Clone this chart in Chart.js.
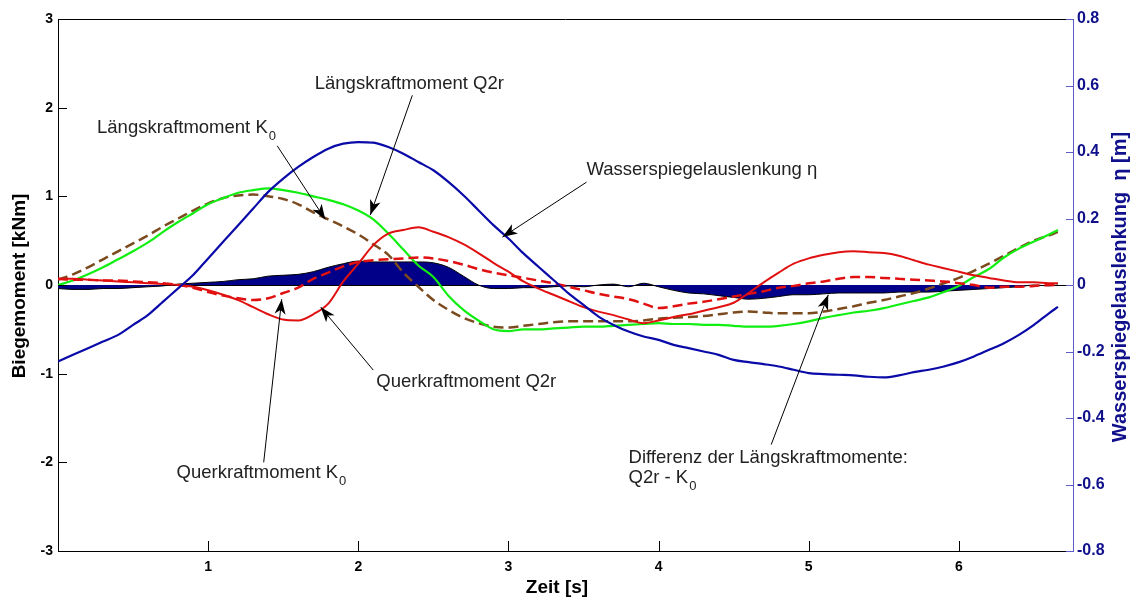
<!DOCTYPE html>
<html>
<head>
<meta charset="utf-8">
<script src="https://cdn.jsdelivr.net/npm/chart.js@4.4.1/dist/chart.umd.min.js"></script>
<style>
  html, body { margin: 0; padding: 0; background: #fff; }
  #wrap { width: 1137px; height: 604px; }
</style>
</head>
<body>
<div id="wrap"><canvas id="chart" width="1137" height="604"></canvas></div>
<script>
// ————— Data —————
const times = [0,0.1,0.2,0.3,0.4,0.5,0.6,0.7,0.8,0.9,1.0,1.1,1.2,1.3,1.4,1.5,1.6,1.7,1.8,1.9,
  2.0,2.1,2.2,2.3,2.4,2.5,2.6,2.7,2.8,2.9,3.0,3.1,3.2,3.3,3.4,3.5,3.6,3.7,3.8,3.9,
  4.0,4.1,4.2,4.3,4.4,4.5,4.6,4.7,4.8,4.9,5.0,5.1,5.2,5.3,5.4,5.5,5.6,5.7,5.8,5.9,
  6.0,6.1,6.2,6.3,6.4,6.5,6.6,6.66];

// Wasserspiegelauslenkung eta [m] (right axis)
const eta = [-0.23,-0.21,-0.19,-0.17,-0.15,-0.12,-0.09,-0.05,-0.01,0.03,0.08,0.13,0.18,0.23,0.28,0.32,0.355,0.385,0.41,0.425,
  0.43,0.428,0.415,0.395,0.37,0.345,0.31,0.27,0.225,0.18,0.14,0.095,0.055,0.015,-0.025,-0.06,-0.095,-0.12,-0.14,-0.155,
  -0.165,-0.18,-0.19,-0.2,-0.21,-0.225,-0.232,-0.238,-0.245,-0.255,-0.265,-0.268,-0.27,-0.272,-0.276,-0.278,-0.272,-0.262,-0.255,-0.245,
  -0.232,-0.215,-0.195,-0.175,-0.15,-0.12,-0.085,-0.066];

// Längskraftmoment Q2r [kNm]
const laengsQ2r = [0.0,0.05,0.12,0.2,0.29,0.38,0.48,0.6,0.71,0.81,0.91,0.98,1.04,1.07,1.09,1.07,1.04,1.0,0.96,0.91,
  0.84,0.74,0.58,0.4,0.22,0.09,-0.12,-0.28,-0.4,-0.5,-0.52,-0.5,-0.5,-0.49,-0.48,-0.47,-0.47,-0.46,-0.45,-0.44,
  -0.43,-0.44,-0.44,-0.45,-0.45,-0.46,-0.47,-0.47,-0.46,-0.44,-0.41,-0.37,-0.34,-0.31,-0.29,-0.26,-0.22,-0.18,-0.14,-0.08,
  -0.01,0.09,0.18,0.31,0.41,0.49,0.57,0.62];

// Längskraftmoment K0 [kNm]
const laengsK0 = [0.06,0.12,0.2,0.29,0.38,0.47,0.56,0.66,0.75,0.84,0.92,0.98,1.01,1.02,1.0,0.97,0.91,0.82,0.74,0.66,
  0.57,0.46,0.34,0.14,-0.02,-0.17,-0.28,-0.37,-0.43,-0.47,-0.48,-0.46,-0.44,-0.42,-0.41,-0.41,-0.41,-0.41,-0.41,-0.4,
  -0.38,-0.37,-0.36,-0.35,-0.33,-0.31,-0.3,-0.31,-0.32,-0.32,-0.32,-0.3,-0.27,-0.24,-0.2,-0.17,-0.13,-0.09,-0.04,0.02,
  0.08,0.16,0.24,0.33,0.42,0.5,0.56,0.6];

// Querkraftmoment Q2r [kNm]
const querQ2r = [0.07,0.07,0.06,0.05,0.04,0.03,0.02,0.01,0.0,-0.02,-0.06,-0.11,-0.17,-0.25,-0.33,-0.39,-0.4,-0.33,-0.21,0.04,
  0.24,0.45,0.58,0.62,0.65,0.6,0.54,0.46,0.36,0.25,0.15,0.04,-0.04,-0.11,-0.18,-0.25,-0.3,-0.34,-0.39,-0.43,
  -0.4,-0.36,-0.33,-0.29,-0.25,-0.2,-0.09,0.03,0.14,0.24,0.3,0.34,0.37,0.38,0.37,0.36,0.33,0.28,0.23,0.19,
  0.15,0.11,0.08,0.05,0.03,0.03,0.02,0.02];

// Querkraftmoment K0 [kNm]
const querK0 = [0.07,0.06,0.06,0.05,0.05,0.04,0.03,0.02,0.0,-0.03,-0.08,-0.12,-0.15,-0.17,-0.15,-0.09,-0.03,0.07,0.14,0.21,
  0.26,0.28,0.29,0.3,0.31,0.3,0.27,0.23,0.18,0.14,0.11,0.08,0.05,0.02,-0.02,-0.06,-0.1,-0.13,-0.16,-0.21,
  -0.26,-0.24,-0.21,-0.19,-0.16,-0.13,-0.1,-0.07,-0.03,-0.01,0.02,0.04,0.07,0.09,0.09,0.08,0.07,0.06,0.05,0.04,
  0.02,0.0,-0.03,-0.02,-0.02,-0.01,0.0,0.0];

// Differenz der Längskraftmomente Q2r - K0 [kNm]
const diffLaengs = [-0.04,-0.05,-0.05,-0.04,-0.04,-0.03,-0.02,-0.01,0.01,0.02,0.03,0.04,0.06,0.07,0.1,0.11,0.12,0.15,0.2,0.24,
  0.27,0.26,0.26,0.26,0.26,0.25,0.2,0.1,0.0,-0.04,-0.04,-0.03,-0.03,-0.02,-0.01,-0.02,0.0,0.01,-0.02,0.02,
  -0.02,-0.06,-0.09,-0.1,-0.12,-0.14,-0.16,-0.15,-0.13,-0.11,-0.11,-0.1,-0.09,-0.09,-0.09,-0.09,-0.08,-0.08,-0.08,-0.07,
  -0.06,-0.05,-0.04,-0.03,-0.02,0.0,-0.01,0.0];

const leftTicks  = [-3,-2,-1,0,1,2,3];
const rightTicks = [-0.8,-0.6,-0.4,-0.2,0,0.2,0.4,0.6,0.8];
const timeTicks  = [1,2,3,4,5,6];

// annotation texts, anchored in data units (time, left axis)
const notes = [
  { text:'Längskraftmoment Q2r', at:[1.71, 2.27],  from:[2.36, 2.14],  to:[2.08, 0.79] },
  { text:'Längskraftmoment K', sub:'0', at:[0.26, 1.77], from:[1.46, 1.57], to:[1.78, 0.74] },
  { text:'Wasserspiegelauslenkung η', at:[3.52, 1.30], from:[3.52, 1.16], to:[2.96, 0.54] },
  { text:'Querkraftmoment Q2r', at:[2.12, -1.09], from:[2.10, -0.96], to:[1.75, -0.25] },
  { text:'Querkraftmoment K', sub:'0', at:[0.79, -2.12], from:[1.37, -2.0], to:[1.49, -0.16] },
  { text:'Differenz der Längskraftmomente:', at:[3.80, -1.95], from:[4.75, -1.80], to:[5.13, -0.11] },
  { text:'Q2r - K', sub:'0', at:[3.80, -2.18] }
];

// ————— Helpers —————
const pts = vals => times.map((t, i) => ({ x: t, y: vals[i] }));
const FONT = '"Liberation Sans", Arial, sans-serif';

function arrow(ctx, x1, y1, x2, y2) {
  ctx.beginPath(); ctx.moveTo(x1, y1); ctx.lineTo(x2, y2); ctx.stroke();
  const a = Math.atan2(y2 - y1, x2 - x1), L = 15, W = 5.5;
  const bx = x2 - L * Math.cos(a), by = y2 - L * Math.sin(a);
  const nx = x2 - (L - 4) * Math.cos(a), ny = y2 - (L - 4) * Math.sin(a);
  ctx.beginPath();
  ctx.moveTo(x2, y2);
  ctx.lineTo(bx + W * Math.sin(a), by - W * Math.cos(a));
  ctx.lineTo(nx, ny);
  ctx.lineTo(bx - W * Math.sin(a), by + W * Math.cos(a));
  ctx.closePath(); ctx.fill();
}

// ————— Overlay: frame, inward ticks, axis titles, annotations —————
const overlay = {
  id: 'overlay',
  afterDraw(chart) {
    const { ctx, chartArea: a, scales: { x, y, y2 } } = chart;
    ctx.save();
    ctx.lineWidth = 1;
    ctx.strokeStyle = '#000';
    ctx.beginPath(); ctx.moveTo(a.left, a.top + 0.5); ctx.lineTo(a.right, a.top + 0.5); ctx.stroke();

    ctx.beginPath();
    x.ticks.forEach(t => { const p = Math.round(x.getPixelForValue(t.value)) + 0.5; ctx.moveTo(p, a.bottom); ctx.lineTo(p, a.bottom - 10); });
    y.ticks.forEach(t => { const p = Math.round(y.getPixelForValue(t.value)) + 0.5; ctx.moveTo(a.left, p); ctx.lineTo(a.left + 9, p); });
    ctx.stroke();
    ctx.strokeStyle = '#5c5cc8';
    ctx.beginPath();
    y2.ticks.forEach(t => { const p = Math.round(y2.getPixelForValue(t.value)) + 0.5; ctx.moveTo(a.right, p); ctx.lineTo(a.right - 7, p); });
    ctx.stroke();

    // axis titles
    ctx.textAlign = 'center'; ctx.textBaseline = 'middle';
    ctx.fillStyle = '#000';
    ctx.font = `bold 19px ${FONT}`;
    ctx.fillText('Zeit [s]', 557, 588);
    ctx.save(); ctx.translate(20, 286); ctx.rotate(-Math.PI / 2);
    ctx.fillText('Biegemoment [kNm]', 0, 0); ctx.restore();
    ctx.fillStyle = '#10108c';
    ctx.font = `bold 20px ${FONT}`;
    ctx.save(); ctx.translate(1120, 287); ctx.rotate(-Math.PI / 2);
    ctx.fillText('Wasserspiegelauslenkung  η [m]', 0, 0); ctx.restore();

    // annotations
    ctx.fillStyle = '#222'; ctx.strokeStyle = '#222';
    ctx.textAlign = 'left';
    notes.forEach(n => {
      const tx = x.getPixelForValue(n.at[0]), ty = y.getPixelForValue(n.at[1]);
      ctx.font = `18.5px ${FONT}`;
      ctx.fillText(n.text, tx, ty);
      if (n.sub) {
        const w = ctx.measureText(n.text).width;
        ctx.font = `13px ${FONT}`;
        ctx.fillText(n.sub, tx + w + 1, ty + 8);
      }
      if (n.from) {
        ctx.fillStyle = '#000'; ctx.strokeStyle = '#000';
        arrow(ctx, x.getPixelForValue(n.from[0]), y.getPixelForValue(n.from[1]),
                   x.getPixelForValue(n.to[0]),   y.getPixelForValue(n.to[1]));
        ctx.fillStyle = '#222';
      }
    });
    ctx.restore();
  }
};

// ————— Chart —————
const line = (data, color, extra) => Object.assign({
  data: pts(data), borderColor: color, borderWidth: 2, pointRadius: 0,
  fill: false, cubicInterpolationMode: 'monotone', yAxisID: 'y'
}, extra);

new Chart(document.getElementById('chart'), {
  type: 'line',
  data: {
    datasets: [
      line(eta, '#0a0aa8', { yAxisID: 'y2', borderWidth: 2.2, order: 1 }),
      line(querQ2r, '#e01010', { order: 2 }),
      line(querK0, '#e01010', { borderDash: [10, 5], borderWidth: 2.5, order: 3 }),
      line(laengsQ2r, '#11ee11', { borderWidth: 2.2, order: 4 }),
      line(laengsK0, '#7b4a1e', { borderDash: [10, 5], borderWidth: 2.5, order: 5 }),
      line(diffLaengs, '#000', { borderWidth: 1, fill: 'origin', backgroundColor: '#000088', order: 6 })
    ]
  },
  options: {
    responsive: false,
    animation: false,
    layout: { padding: { top: 19, left: 0, right: 0, bottom: 0 } },
    plugins: { legend: { display: false }, tooltip: { enabled: false } },
    scales: {
      x: {
        type: 'linear', min: 0, max: 6.76,
        afterFit: s => { s.height = 53; },
        afterBuildTicks: s => { s.ticks = timeTicks.map(v => ({ value: v })); },
        grid: { color: 'transparent', drawTicks: false },
        border: { color: '#000', width: 1 },
        ticks: { color: '#000', font: { family: FONT, size: 14, weight: 'bold' }, padding: 8, maxRotation: 0 }
      },
      y: {
        position: 'left', min: -3, max: 3,
        afterFit: s => { s.width = 58; },
        afterBuildTicks: s => { s.ticks = leftTicks.map(v => ({ value: v })); },
        grid: { color: c => (c.tick && c.tick.value === 0 ? '#000' : 'transparent'), drawTicks: false },
        border: { color: '#000', width: 1 },
        ticks: { color: '#000', font: { family: FONT, size: 14, weight: 'bold' }, padding: 5 }
      },
      y2: {
        position: 'right', min: -0.8, max: 0.8,
        afterFit: s => { s.width = 64; },
        afterBuildTicks: s => { s.ticks = rightTicks.map(v => ({ value: v })); },
        grid: { color: 'transparent', drawTicks: false, drawOnChartArea: false },
        border: { color: '#5c5cc8', width: 1 },
        ticks: { color: '#10108c', font: { family: FONT, size: 16, weight: 'bold' }, padding: 4,
                 callback: v => String(Math.round(v * 10) / 10) }
      }
    }
  },
  plugins: [overlay]
});
</script>
</body>
</html>
